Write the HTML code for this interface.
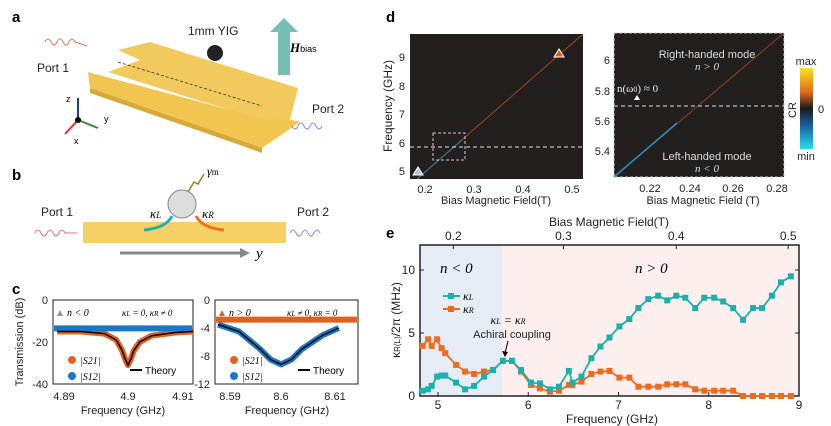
<!DOCTYPE html>
<html><head><meta charset="utf-8"><style>
body{margin:0;background:#fff;}
svg{display:block;font-family:"Liberation Sans",sans-serif;}
.t{font-size:11px;fill:#222}
.s{font-size:12px;fill:#222}
.it{font-family:"Liberation Serif",serif;font-style:italic}
</style></head><body>
<svg width="831" height="426" viewBox="0 0 831 426">
<!-- Panel a -->
<g>
<text x="12" y="22" font-size="15" font-weight="bold">a</text>
<polygon points="118,50 150,42 298,88 290,120 255,118 108,72 140,60" fill="#f2c95c"/>
<polygon points="88,72 260,118 292,120 300,122 262,148 240,140 90,88" fill="#f0c550"/>
<polygon points="90,88 240,140 262,148 262,153 240,145 90,93" fill="#d9a83a"/>
<line x1="118" y1="62" x2="262" y2="106" stroke="#333" stroke-dasharray="3,2" stroke-width="0.8"/>
<circle cx="215" cy="53" r="8" fill="#222"/>
<text x="188" y="35" class="s">1mm YIG</text>
<polygon points="270,32 284,18 298,32 290,32 290,75 278,75 278,32" fill="#5fb3a8" opacity="0.85"/>
<text x="290" y="52" font-size="13" font-weight="bold" font-style="italic" font-family="Liberation Serif,serif">H<tspan font-size="9" font-style="normal" font-weight="normal" font-family="Liberation Sans">bias</tspan></text>
<path d="M45,42 q3,-6 6,0 t6,0 t6,0 t6,0 t6,0 l12,4" stroke="#e36d6d" fill="none"/>
<text x="37" y="72" class="s">Port 1</text>
<text x="312" y="113" class="s">Port 2</text>
<path d="M292,126 q3,6 6,0 t6,0 t6,0 t6,0 t6,0" stroke="#7b8fe0" fill="none"/>
<line x1="78" y1="120" x2="78" y2="98" stroke="#1b3d8f" stroke-width="2"/>
<line x1="78" y1="120" x2="98" y2="128" stroke="#3a8a2a" stroke-width="2"/>
<line x1="78" y1="120" x2="65" y2="134" stroke="#d33" stroke-width="2"/>
<circle cx="78" cy="120" r="3" fill="#000"/>
<text x="66" y="102" font-size="9">z</text><text x="104" y="122" font-size="9">y</text><text x="74" y="144" font-size="9">x</text>
</g>
<!-- Panel b -->
<g>
<text x="12" y="180" font-size="15" font-weight="bold">b</text>
<rect x="83" y="222" width="203" height="21" fill="#f5d064"/>
<circle cx="182" cy="204" r="14" fill="#ddd" stroke="#888"/>
<path d="M188,192 l6,-10 l4,2 l6,-10" stroke="#a67c1a" fill="none" stroke-width="1.5"/>
<text x="207" y="175" class="it" font-size="12">γ<tspan font-size="9" font-style="normal">m</tspan></text>
<path d="M172,216 q-6,12 -28,14" stroke="#1fb0a8" stroke-width="3" fill="none"/>
<path d="M196,216 q6,12 28,14" stroke="#f07020" stroke-width="3" fill="none"/>
<text x="150" y="218" class="it" font-size="13">κ<tspan font-size="9">L</tspan></text>
<text x="202" y="218" class="it" font-size="13">κ<tspan font-size="9">R</tspan></text>
<text x="41" y="216" class="s">Port 1</text><text x="297" y="216" class="s">Port 2</text>
<path d="M35,233 q3,-6 6,0 t6,0 t6,0 t6,0 t6,0 l12,0" stroke="#e36d6d" fill="none"/>
<path d="M290,233 q3,-6 6,0 t6,0 t6,0 t6,0 t6,0" stroke="#7b8fe0" fill="none"/>
<line x1="120" y1="253" x2="240" y2="253" stroke="#888" stroke-width="3"/>
<polygon points="240,248 250,253 240,258" fill="#888"/>
<text x="256" y="258" class="it" font-size="15">y</text>
</g>
<!-- Panel c -->
<g>
<text x="12" y="294" font-size="15" font-weight="bold">c</text>
<text transform="translate(23,342) rotate(-90)" text-anchor="middle" class="t">Transmission (dB)</text>
<rect x="53" y="300" width="140" height="84" fill="#fff" stroke="#222"/>
<rect x="215" y="300" width="143" height="84" fill="#fff" stroke="#222"/>
<g id="cplots"></g>
<text x="48" y="304" class="t" text-anchor="end">0</text><text x="48" y="346" class="t" text-anchor="end">-20</text><text x="48" y="388" class="t" text-anchor="end">-40</text>
<text x="210" y="304" class="t" text-anchor="end">0</text><text x="210" y="332" class="t" text-anchor="end">-4</text><text x="210" y="360" class="t" text-anchor="end">-8</text><text x="210" y="388" class="t" text-anchor="end">-12</text>
<text x="64" y="400" class="t" text-anchor="middle">4.89</text><text x="128" y="400" class="t" text-anchor="middle">4.9</text><text x="183" y="400" class="t" text-anchor="middle">4.91</text>
<text x="230" y="400" class="t" text-anchor="middle">8.59</text><text x="281" y="400" class="t" text-anchor="middle">8.6</text><text x="335" y="400" class="t" text-anchor="middle">8.61</text>
<text x="123" y="414" class="t" text-anchor="middle">Frequency (GHz)</text>
<text x="287" y="414" class="t" text-anchor="middle">Frequency (GHz)</text>
<polygon points="57,316 60,310 63,316" fill="#8a8fb8"/><text x="67" y="316" font-size="10" class="it">n &lt; 0</text>
<text x="122" y="316" font-size="9" class="it">κ<tspan font-size="7">L</tspan> = 0, κ<tspan font-size="7">R</tspan> ≠ 0</text>
<polygon points="219,316 222,310 225,316" fill="#c8643a"/><text x="229" y="316" font-size="10" class="it">n &gt; 0</text>
<text x="287" y="316" font-size="9" class="it">κ<tspan font-size="7">L</tspan> ≠ 0, κ<tspan font-size="7">R</tspan> = 0</text>
<circle cx="72" cy="360" r="4" fill="#e0621f"/><text x="80" y="364" font-size="10" class="it">|S21|</text>
<circle cx="72" cy="376" r="4" fill="#1a78c8"/><text x="80" y="380" font-size="10" class="it">|S12|</text>
<line x1="130" y1="370" x2="142" y2="370" stroke="#000" stroke-width="2"/><text x="145" y="374" font-size="10">Theory</text>
<circle cx="234" cy="360" r="4" fill="#e0621f"/><text x="242" y="364" font-size="10" class="it">|S21|</text>
<circle cx="234" cy="376" r="4" fill="#1a78c8"/><text x="242" y="380" font-size="10" class="it">|S12|</text>
<line x1="298" y1="370" x2="310" y2="370" stroke="#000" stroke-width="2"/><text x="313" y="374" font-size="10">Theory</text>
</g>
<!-- Panel d -->
<g>
<text x="386" y="22" font-size="15" font-weight="bold">d</text>
<rect x="410" y="34" width="173" height="145" fill="#231f1e"/>
<line x1="417" y1="179" x2="583" y2="34" stroke="#9a4a22" stroke-width="1"/>
<line x1="417" y1="179" x2="462" y2="140" stroke="#2a7fb0" stroke-width="1"/>
<line x1="410" y1="147" x2="583" y2="147" stroke="#ddd" stroke-dasharray="4,3"/>
<rect x="433" y="133" width="32" height="27" fill="none" stroke="#ccc" stroke-dasharray="3,2"/>
<polygon points="413,175 418,167 423,175" fill="#b8c4e8" stroke="#fff"/>
<polygon points="554,57 559,49 564,57" fill="#d85a2a" stroke="#fff"/>
<text x="405" y="61" class="t" text-anchor="end">9</text><text x="405" y="90" class="t" text-anchor="end">8</text><text x="405" y="118" class="t" text-anchor="end">7</text><text x="405" y="147" class="t" text-anchor="end">6</text><text x="405" y="175" class="t" text-anchor="end">5</text>
<text transform="translate(392,106) rotate(-90)" text-anchor="middle" class="s">Frequency (GHz)</text>
<text x="425" y="193" class="t" text-anchor="middle">0.2</text><text x="474" y="193" class="t" text-anchor="middle">0.3</text><text x="523" y="193" class="t" text-anchor="middle">0.4</text><text x="572" y="193" class="t" text-anchor="middle">0.5</text>
<text x="496" y="204" class="t" text-anchor="middle">Bias Magnetic Field(T)</text>
<rect x="614" y="33" width="170" height="144" fill="#231f1e" stroke="#ccc" stroke-dasharray="3,2"/>
<line x1="614" y1="177" x2="784" y2="33" stroke="#8a4220" stroke-width="1"/>
<line x1="614" y1="177" x2="677" y2="123" stroke="#2a90c8" stroke-width="1.5"/>
<line x1="614" y1="106" x2="784" y2="106" stroke="#ddd" stroke-dasharray="4,3"/>
<text x="707" y="58" font-size="11" fill="#ddd" text-anchor="middle">Right-handed mode</text>
<text x="707" y="70" font-size="11" fill="#ddd" text-anchor="middle" class="it">n &gt; 0</text>
<text x="707" y="160" font-size="11" fill="#ddd" text-anchor="middle">Left-handed mode</text>
<text x="707" y="172" font-size="11" fill="#ddd" text-anchor="middle" class="it">n &lt; 0</text>
<text x="617" y="92" font-size="11" fill="#eee" font-family="Liberation Serif,serif">n(ω<tspan font-size="8">0</tspan>) ≈ 0</text>
<polygon points="634,100 637,95 640,100" fill="#fff"/>
<text x="610" y="64" class="t" text-anchor="end">6</text><text x="610" y="95" class="t" text-anchor="end">5.8</text><text x="610" y="125" class="t" text-anchor="end">5.6</text><text x="610" y="155" class="t" text-anchor="end">5.4</text>
<text x="650" y="192" class="t" text-anchor="middle">0.22</text><text x="690" y="192" class="t" text-anchor="middle">0.24</text><text x="733" y="192" class="t" text-anchor="middle">0.26</text><text x="777" y="192" class="t" text-anchor="middle">0.28</text>
<text x="703" y="204" class="t" text-anchor="middle">Bias Magnetic Field (T)</text>
<defs><linearGradient id="cb" x1="0" y1="0" x2="0" y2="1"><stop offset="0" stop-color="#f7e325"/><stop offset="0.3" stop-color="#e06a1a"/><stop offset="0.5" stop-color="#1a1a1a"/><stop offset="0.7" stop-color="#1a5a9a"/><stop offset="1" stop-color="#22e0f0"/></linearGradient></defs>
<rect x="800" y="68" width="13" height="81" fill="url(#cb)"/>
<text x="806" y="65" class="t" text-anchor="middle">max</text><text x="806" y="160" class="t" text-anchor="middle">min</text>
<text x="818" y="113" class="t">0</text>
<text transform="translate(796,110) rotate(-90)" text-anchor="middle" class="t">CR</text>
</g>
<!-- Panel e -->
<g>
<text x="386" y="238" font-size="15" font-weight="bold">e</text>
<g id="eplot"></g>
</g>
</svg>
<script>
const NS='http://www.w3.org/2000/svg';
function mk(p,tag,attrs){const e=document.createElementNS(NS,tag);for(const k in attrs)e.setAttribute(k,attrs[k]);p.appendChild(e);return e;}
// ---- panel e data ----
const freqs=[4.83,4.89,4.93,4.99,5.04,5.08,5.20,5.30,5.40,5.51,5.61,5.72,5.82,5.92,6.03,6.13,6.24,6.34,6.45,6.49,6.59,6.70,6.80,6.90,7.01,7.12,7.22,7.33,7.44,7.54,7.64,7.74,7.85,7.95,8.06,8.16,8.27,8.38,8.49,8.59,8.70,8.80,8.91];
const kappaL=[0.42,0.53,0.8,1.54,1.62,1.62,1.06,0.53,0.8,1.54,2.07,2.79,2.79,2.07,1.06,1.0,0.53,0.74,1.99,1.06,1.54,3.0,3.93,4.64,5.52,6.1,6.98,7.69,7.96,7.59,7.96,7.8,6.98,7.8,7.8,7.5,6.98,6.05,6.98,6.98,7.96,9.02,9.5];
const kappaR=[3.98,4.5,3.98,4.5,3.8,3.4,2.47,1.94,1.75,1.94,2.07,2.79,2.79,1.94,0.88,0.61,0.34,0.42,0.88,0.88,1.14,1.75,1.94,1.99,1.46,1.46,0.74,0.74,0.74,0.93,0.93,0.93,0.53,0.42,0.42,0.42,0.42,0,0,0,0,0,0];
const xTicks=[5,6,7,8,9];
const yTicks=[0,5,10];
const topTicks=[0.2,0.3,0.4,0.5];
const topTickFreqs=[5.17,6.39,7.64,8.88];
const X=f=>438+(f-5)*90.25, Y=v=>396-v*12.6;
const g=document.getElementById('eplot');
let r=mk(g,'rect',{x:420,y:245,width:X(5.71)-420,height:151,fill:'#e6ecf6'});


r=mk(g,'rect',{x:X(5.71),y:245,width:799-X(5.71),height:151,fill:'#fcefee'});


r=mk(g,'rect',{x:420,y:245,width:379,height:151,fill:'none',stroke:'#222','stroke-width':1.5});


xTicks.forEach(t=>{mk(g,'line',{x1:X(t),x2:X(t),y1:396,y2:392,stroke:'#222'});const tx=mk(g,'text',{x:X(t),y:409,'text-anchor':'middle',class:'s'});tx.textContent=t;});
yTicks.forEach(t=>{mk(g,'line',{x1:420,x2:424,y1:Y(t),y2:Y(t),stroke:'#222'});mk(g,'line',{x1:795,x2:799,y1:Y(t),y2:Y(t),stroke:'#222'});const tx=mk(g,'text',{x:415,y:Y(t)+4,'text-anchor':'end',class:'s'});tx.textContent=t;});
topTicks.forEach((t,i)=>{mk(g,'line',{x1:X(topTickFreqs[i]),x2:X(topTickFreqs[i]),y1:245,y2:249,stroke:'#222'});const tx=mk(g,'text',{x:X(topTickFreqs[i]),y:240,'text-anchor':'middle',class:'s'});tx.textContent=t;});
let tt=mk(g,'text',{x:609,y:226,'text-anchor':'middle',class:'s'});tt.textContent='Bias Magnetic Field(T)';


tt=mk(g,'text',{x:612,y:423,'text-anchor':'middle',class:'s'});tt.textContent='Frequency (GHz)';


tt=mk(g,'text',{transform:'translate(400,320) rotate(-90)','text-anchor':'middle',class:'s'});tt.innerHTML='κ<tspan font-size="8">R(L)</tspan>/2π (MHz)';


tt=mk(g,'text',{x:440,y:273,'font-size':15,class:'it'});tt.textContent='n < 0';
tt=mk(g,'text',{x:635,y:273,'font-size':15,class:'it'});tt.textContent='n > 0';
function series(vals,color,name){
  const pts=freqs.map((f,i)=>X(f)+','+Y(vals[i])).join(' ');
  const pl=mk(g,'polyline',{points:pts,fill:'none',stroke:color,'stroke-width':1.8});
  
  
  freqs.forEach((f,i)=>{const m=mk(g,'rect',{x:X(f)-3,y:Y(vals[i])-3,width:6,height:6,fill:color});
    
    });
}
series(kappaR,'#f06a1e','kappa-r');
series(kappaL,'#1bb0aa','kappa-l');
// legend
mk(g,'line',{x1:443,x2:460,y1:296,y2:296,stroke:'#1bb0aa','stroke-width':2});mk(g,'rect',{x:448,y:293,width:6,height:6,fill:'#1bb0aa'});
mk(g,'line',{x1:443,x2:460,y1:309,y2:309,stroke:'#f06a1e','stroke-width':2});mk(g,'rect',{x:448,y:306,width:6,height:6,fill:'#f06a1e'});
tt=mk(g,'text',{x:463,y:300,'font-size':12,class:'it'});tt.innerHTML='κ<tspan font-size="8">L</tspan>';


tt=mk(g,'text',{x:463,y:313,'font-size':12,class:'it'});tt.innerHTML='κ<tspan font-size="8">R</tspan>';


tt=mk(g,'text',{x:508,y:324,'font-size':12,'text-anchor':'middle',class:'it'});tt.innerHTML='κ<tspan font-size="8">L</tspan> = κ<tspan font-size="8">R</tspan>';
tt=mk(g,'text',{x:512,y:338,'text-anchor':'middle',class:'t'});tt.textContent='Achiral coupling';


mk(g,'line',{x1:508,y1:341,x2:505,y2:353,stroke:'#000'});mk(g,'polygon',{points:'502,351 505,357 508,352',fill:'#000'});
// ---- panel c ----
const cFreqL=[4.888,4.892,4.896,4.898,4.899,4.8995,4.9,4.9005,4.901,4.902,4.904,4.908,4.911];
const s21L=[-15,-15,-16,-19,-24,-28,-31,-28,-24,-20,-17,-15.5,-15];
const cFreqR=[8.588,8.592,8.596,8.598,8.6,8.602,8.604,8.608,8.611];
const s12R=[-3.5,-4.5,-7,-8.5,-9.2,-8.5,-7,-5,-4];
const c=document.getElementById('cplots');
const XL=f=>128+(f-4.9)*5900;
const YLf=v=>300+(-v)*2.1, XR=f=>281+(f-8.6)*5250, YR=v=>300+(-v)*7;
let p=mk(c,'polyline',{points:cFreqL.map((f,i)=>XL(f)+','+YLf(s21L[i])).join(' '),fill:'none',stroke:'#e0621f','stroke-width':6,'stroke-linejoin':'round'});


p=mk(c,'line',{x1:54,x2:192,y1:YLf(-13.5),y2:YLf(-13.5),stroke:'#1a78c8','stroke-width':6});


mk(c,'polyline',{points:cFreqL.map((f,i)=>XL(f)+','+YLf(s21L[i])).join(' '),fill:'none',stroke:'#000','stroke-width':1.5});
p=mk(c,'line',{x1:216,x2:357,y1:YR(-2.8),y2:YR(-2.8),stroke:'#e0621f','stroke-width':6});


p=mk(c,'polyline',{points:cFreqR.map((f,i)=>XR(f)+','+YR(s12R[i])).join(' '),fill:'none',stroke:'#1a78c8','stroke-width':6,'stroke-linejoin':'round'});


mk(c,'polyline',{points:cFreqR.map((f,i)=>XR(f)+','+YR(s12R[i])).join(' '),fill:'none',stroke:'#000','stroke-width':1.5});
</script>
</body></html>
